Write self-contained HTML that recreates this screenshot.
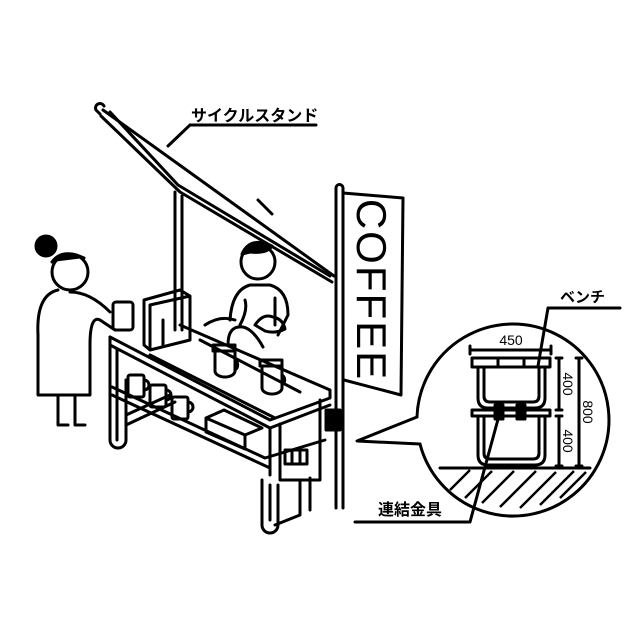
<!DOCTYPE html>
<html><head><meta charset="utf-8"><style>
html,body{margin:0;padding:0;background:#fff}
svg{display:block}
text{font-family:"Liberation Sans","Noto Sans CJK JP",sans-serif;fill:#000}
</style></head><body>
<svg width="640" height="640" viewBox="0 0 640 640" xmlns="http://www.w3.org/2000/svg">
<g fill="none" stroke="#000" stroke-width="3" stroke-linejoin="round" stroke-linecap="round">
<!-- canopy -->
<path d="M103,110 L334,276"/>
<path d="M101,116 L180,192 L332,282"/>
<path d="M110,112 L178,185 L330,276"/>
<path d="M100,114 l-4,-4 a4,4 0 0 1 8,-4"/>
<line x1="258" y1="200" x2="272" y2="214"/>
<!-- left pole -->
<path d="M175,192 V330 M182,196 V330"/>
<!-- labels leader -->
<path d="M190,125 H316 M190,125 L168,146"/>
<!-- coffee pole -->
<path d="M336,188 V508 M343,188 V508 M336,188 a3.5,3.5 0 0 1 7,0"/>
<path d="M343,193 L403,198 L401,395 L344,380"/>
<!-- stand top shelf -->
<path d="M110,337 L270,420 L330,398 L330,390 L180,325"/>
<path d="M110,337 L110,345 L270,428 L330,405"/>
<path d="M150,355 L275,418 M200,340 L300,392"/>
<path d="M110,345 V440 a8,8 0 0 0 16,0 V380 M117,350 V440"/>
<path d="M270,428 V475 M280,424 V480 H320 V400"/>
<path d="M112,395 L270,468 M112,387 L265,458 L325,440"/>
<path d="M262,480 V525 a8,8 0 0 0 16,0 V485 M270,485 V520"/>
<path d="M300,480 V515 L275,525 M310,478 V510"/>
<path d="M126,415 L170,395 M126,425 L175,402"/>
<!-- espresso machine -->
<path d="M144,300 L180,290 L190,296 V340 L150,350 L144,345 Z M150,305 L190,296 M150,305 V350 M163,320 V345"/>
<!-- cups lower -->
<rect x="128" y="375" width="16" height="22" rx="2"/>
<rect x="150" y="385" width="16" height="22" rx="2"/>
<rect x="172" y="397" width="16" height="22" rx="2"/>
<path d="M144,380 a5,5 0 0 1 0,10 M166,390 a5,5 0 0 1 0,10 M188,402 a5,5 0 0 1 0,10"/>
<path d="M206,418 L245,435 L262,428 L224,410 Z M206,418 V432 L245,449 V435"/>
<!-- drippers -->
<path d="M213,345 h22 v6 h-22 z M215,351 v20 a10,6 0 0 0 20,0 v-20 M235,360 a6,6 0 0 1 0,10"/>
<path d="M260,360 h22 v6 h-22 z M262,366 v22 a10,6 0 0 0 20,0 v-22 M282,375 a6,6 0 0 1 0,10"/>
<path d="M228,345 q0,-20 15,-18 q10,2 20,20"/>
<!-- barista -->
<circle cx="258" cy="262" r="17"/>
<path d="M242,254 q8,-18 30,-8 q-5,8 -22,6 z" fill="#000"/>
<path d="M230,320 q2,-30 20,-35 h20 q18,5 18,30 l-10,20 M205,325 q15,-10 30,-5"/>
<path d="M245,300 q3,10 -5,25 M275,298 V325"/>
<path d="M255,325 q8,-12 18,-8 q10,2 12,12 q-10,5 -20,2 z"/>
<!-- woman -->
<circle cx="70" cy="272" r="18"/>
<circle cx="46" cy="246" r="10" fill="#000"/>
<path d="M52,262 q10,-14 32,-4" fill="#000"/>
<path d="M58,290 q-22,5 -20,45 V395 H90 V345 q0,-30 10,-25 l15,10 M70,292 q20,0 40,20"/>
<path d="M58,395 V425 h10 M75,395 V425 h10"/>
<rect x="113" y="302" width="20" height="28" rx="3"/>
<!-- bracket clamp -->
<path d="M326,410 h14 v20 h-14 z" fill="#000"/>
<path d="M285,450 h22 v14 h-22 z M292,450 v14 M300,450 v14"/>
<!-- circle callout -->
<path d="M417,417 L357,441 L420,444"/>
<path d="M417,417 A96,96 0 1 1 420,444"/>
<!-- bench -->
<path d="M472,358 H550 V367 H472 Z M472,410 H550 V416 H472 Z"/>
<path d="M478,367 V398 q0,10 10,10 H535 q10,0 10,-10 V367 M484,367 V396 q0,6 6,6 H533 q6,0 6,-6 V367"/>
<path d="M478,416 V455 q0,10 10,10 H535 q10,0 10,-10 V416 M484,416 V453 q0,6 6,6 H533 q6,0 6,-6 V416"/>
<path d="M498,358 v9 M524,358 v9"/>
<rect x="495" y="405" width="8" height="14" fill="#000"/>
<rect x="517" y="405" width="8" height="14" fill="#000"/>
<path d="M470,350 H551 M470,346 v8 M551,346 v8"/>
<path d="M559,358 V410 M559,416 V466 M556,358 h6 M556,410 h6 M556,416 h6 M556,466 h6 M579,358 V466 M576,358 h6 M576,466 h6"/>
<path d="M440,468 H590"/>
<path d="M548,308 H620 M548,308 L538,366"/>
<path d="M355,522 H470 L500,412"/>
</g>
<g stroke="#000" stroke-width="2.5">
<line x1="450" y1="490" x2="470" y2="470"/><line x1="465" y1="498" x2="492" y2="471"/>
<line x1="482" y1="503" x2="514" y2="471"/><line x1="500" y1="507" x2="536" y2="471"/>
<line x1="520" y1="508" x2="556" y2="472"/><line x1="540" y1="505" x2="574" y2="471"/>
<line x1="560" y1="498" x2="586" y2="472"/>
</g>
<text x="191" y="121" font-size="16" font-weight="bold">サイクルスタンド</text>
<text x="560" y="302" font-size="15" font-weight="bold">ベンチ</text>
<text x="378" y="515" font-size="16" font-weight="bold">連結金具</text>
<text x="511" y="345" font-size="14" text-anchor="middle">450</text>
<text transform="translate(563,384) rotate(90)" font-size="14" text-anchor="middle">400</text>
<text transform="translate(563,441) rotate(90)" font-size="14" text-anchor="middle">400</text>
<text transform="translate(583,412) rotate(90)" font-size="14" text-anchor="middle">800</text>
<text transform="translate(357,290) rotate(90)" font-size="42" text-anchor="middle" letter-spacing="2">COFFEE</text>
</svg>
</body></html>
